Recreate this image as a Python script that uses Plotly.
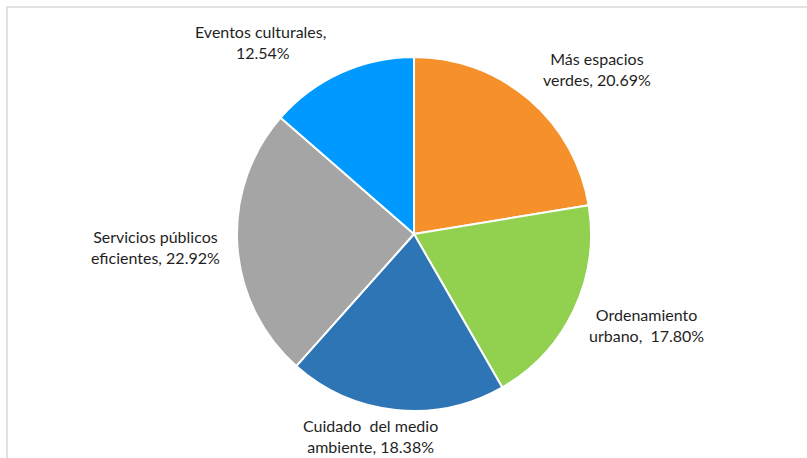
import plotly.graph_objects as go

labels = [
    "Más espacios verdes",
    "Ordenamiento urbano",
    "Cuidado del medio ambiente",
    "Servicios públicos eficientes",
    "Eventos culturales",
]
# line-broken label text as shown on the chart
label_text = [
    "Más espacios<br>verdes,",
    "Ordenamiento<br>urbano, ",
    "Cuidado  del medio<br>ambiente,",
    "Servicios públicos<br>eficientes,",
    "Eventos culturales,<br>",
]
values = [20.69, 17.80, 18.38, 22.92, 12.54]
colors = ["#F5902B", "#92D050", "#2E75B6", "#A5A5A5", "#0099FF"]

W, H = 807, 458
# label centers in pixels
label_pos = [(597, 69), (646, 325), (370, 436), (155, 247), (260, 42)]

fig = go.Figure()
fig.add_trace(
    go.Pie(
        labels=labels,
        values=values,
        sort=False,
        direction="clockwise",
        rotation=0,
        textinfo="none",
        hoverinfo="label+value",
        marker=dict(colors=colors, line=dict(color="white", width=2)),
        domain=dict(x=[237 / W, 591 / W], y=[(H - 411) / H, (H - 57) / H]),
        showlegend=False,
    )
)

for txt, v, (px, py) in zip(label_text, values, label_pos):
    fig.add_annotation(
        x=px / W,
        y=1 - py / H,
        xref="paper",
        yref="paper",
        xanchor="center",
        yanchor="middle",
        text=f"{txt} {v:.2f}%",
        showarrow=False,
        align="center",
        font=dict(family="Lato", size=16, color="#1F1F1F"),
    )

# outer chart frame
fig.add_shape(
    type="rect",
    xref="paper",
    yref="paper",
    x0=7 / W,
    x1=1.05,
    y0=-0.05,
    y1=1 - 7 / H,
    line=dict(color="#D9D9D9", width=1.5),
)

fig.update_layout(
    width=W,
    height=H,
    margin=dict(t=0, b=0, l=0, r=0),
    paper_bgcolor="white",
    plot_bgcolor="white",
)
fig.write_html(
    "out.html",
    config={"displayModeBar": False},
    post_script="document.body.style.margin='0px';",
)
